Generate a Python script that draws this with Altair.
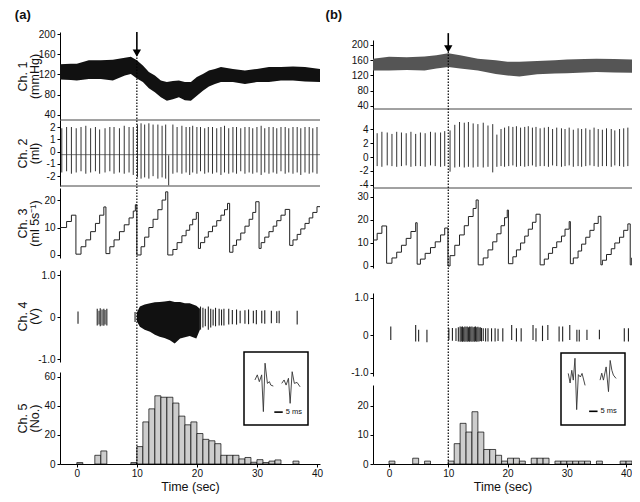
import altair as alt
import pandas as pd

# ----------------------------- data -----------------------------
STIM_T = 10.0  # stimulus time (arrow / dotted line), sec

# Ch.1 arterial pressure, envelope of the trace (mmHg)
ch1a_t  = [-2.8, -1, 0, 2, 4, 6, 8, 9, 10, 11, 12, 13, 14, 15, 16, 17, 18, 19, 20, 21, 22, 23, 24, 26, 28, 30, 32, 34, 36, 38, 40.5]
ch1a_hi = [140, 141, 141, 148, 148, 149, 153, 155, 148, 138, 125, 118, 108, 105, 107, 108, 105, 105, 115, 121, 128, 131, 135, 131, 128, 131, 135, 135, 136, 135, 131]
ch1a_lo = [110, 109, 108, 111, 111, 108, 118, 121, 112, 105, 93, 85, 75, 68, 71, 75, 69, 68, 78, 88, 96, 101, 105, 105, 101, 105, 105, 108, 108, 106, 105]
ch1b_t  = [-2.7, 0, 3, 6, 8, 10, 12, 15, 18, 20, 22, 25, 28, 30, 33, 35, 38, 41]
ch1b_hi = [164, 169, 168, 170, 173, 178, 173, 164, 160, 156, 156, 158, 160, 162, 163, 164, 163, 162]
ch1b_lo = [133, 133, 134, 133, 138, 142, 138, 133, 124, 120, 117, 123, 125, 126, 128, 129, 128, 127]

# Ch.2 volume: beat times, beat maxima and minima (ml)
ch2a_t = [-2.5, -1.7, -0.9, -0.1, 0.7, 1.5, 2.3, 3.1, 3.8, 4.7, 5.5, 6.2, 7.1, 7.9, 8.7, 9.4,
          10.1, 10.7, 11.3, 12.0, 12.7, 13.5, 14.2, 14.8, 15.3,
          16.0, 16.7, 17.5, 18.2, 18.8, 19.3, 20.0, 20.6, 21.3, 21.9, 22.6, 23.3, 24.0, 24.6, 25.3,
          26.0, 26.6, 27.3, 28.0, 28.7, 29.3, 30.0, 30.7, 31.3, 32.0, 32.7, 33.3, 34.0, 34.7, 35.3,
          36.0, 36.7, 37.3, 38.0, 38.7, 39.3, 40.0]
ch2a_hi = [1.9, 2.0, 2.0, 1.9, 2.0, 2.1, 1.9, 2.0, 1.8, 1.9, 2.0, 2.0, 1.9, 2.1, 2.0, 2.0,
           2.2, 2.3, 2.2, 2.3, 2.2, 2.2, 2.1, 2.2, -0.3,
           2.2, 2.0, 2.1, 2.0, 2.0, 2.1, 2.0, 2.0, 1.9, 2.0, 2.0, 1.9, 2.0, 2.1, 1.9,
           2.0, 2.0, 1.9, 2.0, 2.0, 1.9, 2.0, 2.1, 1.9, 2.0, 2.0, 1.9, 2.0, 2.0, 1.9,
           2.0, 2.0, 1.9, 2.0, 2.0, 1.9, 2.0]
ch2a_lo = [-1.7, -1.6, -1.8, -1.7, -1.6, -1.8, -1.7, -1.6, -1.8, -1.7, -1.6, -1.8, -1.7, -1.8, -1.7, -1.9,
           -2.1, -2.2, -2.1, -2.2, -2.0, -2.2, -2.1, -2.2, -2.75,
           -1.8, -1.7, -1.8, -1.7, -1.9, -1.7, -1.8, -1.6, -1.8, -1.7, -1.8, -1.7, -1.9, -1.7, -1.8,
           -1.7, -1.8, -1.6, -1.8, -1.7, -1.8, -1.7, -1.9, -1.7, -1.8, -1.7, -1.8, -1.6, -1.8, -1.7,
           -1.8, -1.7, -1.9, -1.7, -1.8, -1.7, -1.8]
ch2a_base = -0.25
ch2b_t = [-2.0, -1.2, -0.3, 0.5, 1.3, 2.1, 2.9, 3.7, 4.5, 5.3, 6.1, 7.0, 7.8, 8.7, 9.4,
          10.3, 11.1, 11.9, 12.7, 13.4, 14.2, 15.0, 15.9, 16.7, 17.5,
          18.2, 18.9, 19.5, 20.2, 20.9, 21.5, 22.2, 22.9, 23.5, 24.2, 24.8, 25.5, 26.2, 26.9, 27.6,
          28.3, 29.1, 29.7, 30.4, 31.1, 31.9, 32.5, 33.2, 33.9, 34.6, 35.3, 36.0, 36.7, 37.5, 38.1,
          38.9, 39.6, 40.3]
ch2b_hi = [3.4, 3.6, 3.5, 3.3, 3.6, 3.5, 3.4, 3.6, 3.3, 3.5, 3.4, 3.6, 3.5, 3.5, 3.7,
           3.8, 4.6, 5.0, 4.9, 5.0, 4.8, 4.7, 4.9, 4.5, 4.7,
           3.2, 4.0, 4.2, 4.4, 4.3, 4.4, 4.2, 4.3, 4.4, 4.2, 4.3, 4.1, 4.2, 4.3, 4.0,
           4.2, 4.1, 4.0, 4.2, 3.9, 4.1, 4.0, 4.1, 3.9, 4.2, 4.0, 3.9, 4.1, 4.0, 3.8,
           4.0, 4.1, 4.2]
ch2b_lo = [-1.3, -1.4, -1.2, -1.3, -1.4, -1.3, -1.2, -1.4, -1.3, -1.3, -1.4, -1.2, -1.3, -1.4, -1.3,
           -2.1, -1.5, -1.4, -1.5, -1.4, -1.5, -1.4, -1.5, -1.4, -2.2,
           -1.4, -1.3, -1.4, -1.3, -1.2, -1.4, -1.3, -1.4, -1.3, -1.2, -1.4, -1.3, -1.3, -1.4, -1.2,
           -1.3, -1.4, -1.3, -1.2, -1.4, -1.3, -1.4, -1.3, -1.2, -1.3, -1.4, -1.3, -1.3, -1.4, -1.2,
           -1.3, -1.4, -1.3]

# Ch.3 integrated flow (ml 5s-1): staircase levels and the time each level starts
ch3a_t = [-2.8, -1.7, -0.9, -0.15, 0.7, 1.5, 2.3, 3.1, 3.8, 4.5, 4.85, 5.5, 6.2, 7.1, 7.9, 8.7, 9.4, 9.75, 10.0,
          10.7, 11.3, 12.0, 12.7, 13.5, 14.2, 14.8, 15.15, 16.0, 16.7, 17.5, 18.2, 18.8, 19.3, 19.9, 20.25,
          20.6, 21.3, 21.9, 22.6, 23.3, 24.0, 24.6, 25.1, 25.45, 26.0, 26.6, 27.3, 28.0, 28.7, 29.3, 29.8, 30.35,
          30.7, 31.3, 32.0, 32.7, 33.3, 34.0, 34.7, 35.45, 36.0, 36.7, 37.3, 38.0, 38.7, 39.3, 40.0, 40.5]
ch3a_v = [10, 12.2, 14.5, 0.3, 3, 5.5, 8.5, 11.5, 14.5, 17.5, 0.5, 3, 5.5, 8.5, 11, 13.5, 16, 18.3, 0,
          3, 6.5, 10, 13, 16.5, 20, 23, 0, 2, 4.5, 7, 9, 11, 13, 15.5, 2.4,
          4.5, 6.5, 8.5, 10.5, 12.5, 14.5, 16.5, 18.8, 1, 3.5, 5.5, 8, 10.5, 13, 15.5, 19.4, 2.4,
          4.5, 6.5, 8.5, 10.5, 12.5, 14.5, 16.6, 3.5, 5.5, 7.5, 9.5, 11.5, 13.5, 15.5, 17.6, 17.6]
ch3b_t = [-2.7, -2.0, -1.2, -0.4, 0.5, 1.3, 2.1, 2.9, 3.7, 4.5, 4.75, 5.3, 6.1, 7.0, 7.8, 8.7, 9.4, 9.95,
          10.3, 11.1, 11.9, 12.7, 13.4, 14.2, 14.7, 15.05, 15.9, 16.7, 17.5, 18.2, 18.9, 19.5, 19.95, 20.15,
          20.9, 21.5, 22.2, 22.9, 23.5, 24.2, 24.8, 25.5, 26.2, 26.9, 27.6, 28.3, 29.1, 29.7, 30.4, 30.6,
          31.1, 31.9, 32.5, 33.2, 33.9, 34.6, 35.3, 35.75, 36.0, 36.7, 37.5, 38.1, 38.9, 39.6, 40.3, 40.7, 40.95, 41.0]
ch3b_v = [11.3, 14.2, 17.4, 1.2, 3.5, 6, 9, 12, 15, 18.8, 0.8, 3, 5.5, 8, 10.5, 13.5, 16.5, 0,
          4.5, 9, 13.5, 17.5, 21.5, 25, 28.7, 0.5, 3.5, 7, 10.5, 14, 17.5, 21, 24.3, 1,
          4, 7, 10, 13, 16, 19, 22.5, 0.5, 3, 5.5, 8, 10.5, 13, 16, 19.3, 1,
          3.5, 6.5, 9.5, 12.5, 15.5, 18.5, 21.6, 0.5, 2.5, 5, 7.5, 10, 12.5, 15.5, 18.3, 0.5, 3.5, 3.5]

# Ch.4 nerve activity (V): envelope of the dense burst and isolated spikes
burst_a_t  = [10.0, 10.5, 11.3, 12.2, 13.0, 13.8, 14.6, 15.5, 16.3, 17.2, 18.0, 18.8, 19.9, 20.5]
burst_a_hi = [0.1, 0.25, 0.3, 0.33, 0.35, 0.36, 0.37, 0.39, 0.36, 0.36, 0.33, 0.33, 0.27, 0.2]
burst_a_lo = [-0.1, -0.23, -0.3, -0.35, -0.42, -0.47, -0.5, -0.55, -0.63, -0.51, -0.48, -0.45, -0.51, -0.3]
spk_a_t  = [0.2, 3.4, 3.7, 3.9, 4.2, 4.5, 4.7, 5.0, 9.7, 20.6, 21.0, 21.4, 21.9, 22.3, 22.7, 23.1, 23.7, 24.1,
            24.5, 25.3, 25.9, 26.6, 27.2, 28.0, 28.6, 29.4, 29.9, 30.8, 31.3, 32.4, 33.3, 33.7, 36.7]
spk_a_hi = [0.13, 0.2, 0.15, 0.21, 0.18, 0.2, 0.17, 0.2, 0.12, 0.25, 0.22, 0.2, 0.25, 0.2, 0.18, 0.22, 0.2, 0.18,
            0.2, 0.2, 0.17, 0.18, 0.15, 0.16, 0.18, 0.15, 0.17, 0.15, 0.16, 0.15, 0.14, 0.15, 0.15]
spk_a_lo = [-0.16, -0.2, -0.18, -0.22, -0.2, -0.21, -0.18, -0.2, -0.12, -0.3, -0.25, -0.22, -0.3, -0.25, -0.2, -0.22, -0.2, -0.2,
            -0.2, -0.18, -0.17, -0.18, -0.15, -0.16, -0.17, -0.15, -0.17, -0.15, -0.16, -0.15, -0.14, -0.15, -0.18]
spk_b_t  = [0.3, 4.5, 5.0, 6.4, 10.1, 10.7, 11.3, 11.7, 12.0, 12.2, 12.4, 12.6, 12.8, 13.0, 13.2, 13.4, 13.6, 13.8,
            14.0, 14.2, 14.4, 14.6, 14.8, 15.0, 15.2, 15.4, 15.6, 15.9, 16.3, 16.7, 17.3, 17.9, 18.4, 19.2, 20.7,
            21.5, 22.3, 24.3, 24.8, 25.9, 26.8, 28.7, 29.3, 30.5, 31.7, 32.1, 33.4, 35.5, 39.7, 40.4]
spk_b_hi = [0.24, 0.28, 0.15, 0.15, 0.19, 0.2, 0.19, 0.22, 0.24, 0.23, 0.24, 0.22, 0.24, 0.23, 0.24, 0.22, 0.24, 0.23,
            0.24, 0.22, 0.23, 0.24, 0.22, 0.23, 0.21, 0.22, 0.2, 0.19, 0.19, 0.19, 0.19, 0.19, 0.18, 0.19, 0.28,
            0.19, 0.19, 0.28, 0.19, 0.26, 0.28, 0.24, 0.24, 0.28, 0.15, 0.15, 0.15, 0.15, 0.19, 0.19]
spk_b_lo = [-0.12, -0.16, -0.16, -0.18, -0.12, -0.14, -0.15, -0.16, -0.17, -0.16, -0.17, -0.16, -0.17, -0.16, -0.17, -0.16, -0.17, -0.16,
            -0.17, -0.16, -0.17, -0.16, -0.17, -0.16, -0.16, -0.15, -0.16, -0.15, -0.16, -0.16, -0.16, -0.16, -0.15, -0.16, -0.12,
            -0.16, -0.16, -0.12, -0.16, -0.15, -0.12, -0.16, -0.16, -0.12, -0.16, -0.16, -0.12, -0.1, -0.16, -0.16]

# Ch.5 spike counts per 1-s bin (bin start, count)
h5a_t = [0, 3, 4, 9, 10, 11, 12, 13, 14, 15, 16, 17, 18, 19, 20, 21, 22, 23, 24, 25, 26, 27, 28, 29, 30, 31, 32, 33, 36]
h5a_n = [1, 6, 9, 1, 12, 29, 38, 47, 46, 46, 42, 33, 27, 29, 21, 17, 16, 14, 6, 6, 6, 3.5, 4.5, 1.2, 3, 1, 2, 2.8, 2]
h5b_t = [0, 4, 6, 10, 11, 12, 13, 14, 15, 16, 17, 18, 19, 20, 21, 22, 24, 25, 26, 28, 29, 30, 31, 32, 33, 35, 39, 40]
h5b_n = [1, 2, 1, 1, 7, 14, 11, 18, 11, 5, 5, 3, 1, 2, 2, 1, 2, 2, 2, 1, 1, 1, 1, 1, 1, 1, 1, 1]

# Insets: averaged spike waveforms (ms, relative amplitude) and 5 ms scale bar
ins_a1_ms = [6.5, 7.9, 9.1, 10.5, 11.5, 12.5, 13.9, 15.1, 15.9, 17.4]
ins_a1_v  = [0.35, 0.56, 0.28, 0.56, -0.95, 1.04, 0.21, 0.28, 0.14, 0.1]
ins_a2_ms = [22.4, 23.8, 25.0, 26.4, 27.4, 28.6, 29.9, 31.5, 33.3]
ins_a2_v  = [0.21, 0.35, 0.14, 0.42, -0.61, 0.69, 0.21, 0.25, 0.07]
ins_b1_ms = [4.3, 5.4, 6.4, 7.3, 8.3, 9.3, 10.3, 11.5, 12.5, 14.3]
ins_b1_v  = [0.65, 0.25, 0.78, 0.37, 1.28, -0.86, 0.6, 0.5, 0.65, 0.15]
ins_b2_ms = [23.2, 24.2, 25.2, 26.8, 28.2, 29.2, 30.2, 31.1, 32.7]
ins_b2_v  = [0.37, 0.66, 0.37, 0.92, -0.11, 1.19, 0.78, 0.58, 0.44]
SCALE_MS = 5

# ----------------------------- layout (scales) -----------------------------
W, H = 624, 486
PA = dict(xdom=[-2.8, 40.5], xrng=[52, 312],
          y={1: ([30, 204], [112, 24]), 2: ([-2.8, 2.57], [178, 112]), 3: ([-1.1, 24.4], [250, 180]),
             4: ([-1.07, 1.12], [354, 262]), 5: ([0, 63.4], [456, 364])},
          full=[456, 47], ins_x=[236, 300], ins_y=[417, 344])
PB = dict(xdom=[-2.7, 41.0], xrng=[365, 624],
          y={1: ([32, 213], [101, 32]), 2: ([-4.43, 6.86], [180, 101]), 3: ([-0.87, 33.9], [260, 180]),
             4: ([-1.08, 1.13], [368, 285]), 5: ([0, 27.2], [456, 377])},
          full=[456, 44], ins_x=[553, 617], ins_y=[417, 345])
INS_DOM_X = [0, 38]
INS_DOM_Y = [-1.5, 1.5]
FONT = "Liberation Sans"


def X(P, f, axis=None):
    return alt.X(f"{f}:Q", scale=alt.Scale(domain=P["xdom"], range=P["xrng"], nice=False, zero=False), axis=axis)


def Y(P, ch, f, axis=None):
    d, r = P["y"][ch]
    return alt.Y(f"{f}:Q", scale=alt.Scale(domain=d, range=r, nice=False, zero=False), axis=axis)


def yaxis(P, values, title, label_expr=None):
    kw = dict(orient="left", offset=-P["xrng"][0], values=values, labelOverlap=False,
              labelFlush=False, grid=False, tickSize=3)
    if title:
        kw.update(title=title, titleX=-38, titleBaseline="middle", titleFontWeight="normal",
                  titleFontSize=12.5, titleLineHeight=12)
    else:
        kw.update(title="")
    if label_expr:
        kw.update(labelExpr=label_expr)
    return alt.Axis(**kw)


MINUS = "replace(format(datum.value, 'd'), '\u2212', '-')"
ONE = "datum.value == 0 ? '0' : replace(format(datum.value, '.1f'), '\u2212', '-')"


def panel(P, d, titles, label, ch1_color, arrow, label_pos):
    L = []
    # Ch.5 histogram with the time axis
    xax = alt.Axis(orient="bottom", offset=-(H - P["y"][5][1][0]), values=[0, 10, 20, 30, 40],
                   title="Time (sec)", titleFontWeight="normal", titleFontSize=12.5, titlePadding=2,
                   labelFlush=False, grid=False, tickSize=3, labelPadding=1)
    L.append(alt.Chart(pd.DataFrame({"t": d["h_t"], "n": d["h_n"]}))
             .transform_calculate(t2="datum.t + 1", z="0")
             .mark_rect(fill="#cdcdcd", stroke="black", strokeWidth=0.7)
             .encode(x=X(P, "t", xax), x2="t2:Q",
                     y=Y(P, 5, "n", yaxis(P, d["y5vals"], ["Ch. 5", "(No.)"] if titles else None, MINUS)),
                     y2="z:Q"))
    # Ch.4
    L.append(alt.Chart(pd.DataFrame({"t": d["spk_t"], "hi": d["spk_hi"], "lo": d["spk_lo"]}))
             .mark_rule(color="#222", strokeWidth=1.1)
             .encode(x=X(P, "t"),
                     y=Y(P, 4, "hi", yaxis(P, [-1, 0, 1], ["Ch. 4", "(V)"] if titles else None, ONE)),
                     y2="lo:Q"))
    if d.get("burst_t"):
        L.append(alt.Chart(pd.DataFrame({"t": d["burst_t"], "hi": d["burst_hi"], "lo": d["burst_lo"]}))
                 .mark_area(color="#111")
                 .encode(x=X(P, "t"), y=Y(P, 4, "hi"), y2="lo:Q"))
    # Ch.3
    L.append(alt.Chart(pd.DataFrame({"t": d["ch3_t"], "v": d["ch3_v"]}))
             .mark_line(color="#222", strokeWidth=1, interpolate="step-after")
             .encode(x=X(P, "t"),
                     y=Y(P, 3, "v", yaxis(P, d["y3vals"], ["Ch. 3", "(ml 5s\u207b\u00b9)"] if titles else None, MINUS))))
    # Ch.2
    if d.get("ch2_base") is not None:
        L.append(alt.Chart(pd.DataFrame({"a": [P["xdom"][0] + 0.2], "b": [P["xdom"][1]], "v": [d["ch2_base"]]}))
                 .mark_rule(color="#555", strokeWidth=0.8)
                 .encode(x=X(P, "a"), x2="b:Q", y=Y(P, 2, "v")))
    L.append(alt.Chart(pd.DataFrame({"t": d["ch2_t"], "hi": d["ch2_hi"], "lo": d["ch2_lo"]}))
             .mark_rule(color="#333", strokeWidth=1)
             .encode(x=X(P, "t"),
                     y=Y(P, 2, "hi", yaxis(P, d["y2vals"], ["Ch. 2", "(ml)"] if titles else None, MINUS)),
                     y2="lo:Q"))
    dom2 = P["y"][2][0]
    L.append(alt.Chart(pd.DataFrame({"a": [P["xdom"][0]] * 2, "b": [P["xdom"][1]] * 2, "v": dom2}))
             .mark_rule(color="#444", strokeWidth=1)
             .encode(x=X(P, "a"), x2="b:Q", y=Y(P, 2, "v")))
    # Ch.1
    L.append(alt.Chart(pd.DataFrame({"t": d["ch1_t"], "hi": d["ch1_hi"], "lo": d["ch1_lo"]}))
             .mark_area(color=ch1_color)
             .encode(x=X(P, "t"),
                     y=Y(P, 1, "hi", yaxis(P, [40, 80, 120, 160, 200], ["Ch. 1", "(mmHg)"] if titles else None)),
                     y2="lo:Q"))
    # stimulus: dotted line and arrow
    L.append(alt.Chart(pd.DataFrame({"t": [STIM_T], "a": [0], "b": [1]}))
             .mark_rule(color="black", strokeWidth=1.2, strokeDash=[1.5, 1.5])
             .encode(x=X(P, "t"),
                     y=alt.Y("a:Q", scale=alt.Scale(domain=[0, 1], range=P["full"], nice=False, zero=False), axis=None),
                     y2="b:Q"))
    L.append(alt.Chart(pd.DataFrame({"t": [STIM_T], "a": [arrow[0]], "b": [arrow[1]]}))
             .mark_rule(color="black", strokeWidth=1.6)
             .encode(x=X(P, "t"), y=Y(P, 1, "a"), y2="b:Q"))
    L.append(alt.Chart(pd.DataFrame({"t": [STIM_T], "v": [arrow[2]]}))
             .mark_point(shape="triangle-down", filled=True, size=70, color="black", opacity=1)
             .encode(x=X(P, "t"), y=Y(P, 1, "v")))
    # inset
    ix = alt.Scale(domain=INS_DOM_X, range=P["ins_x"], nice=False, zero=False)
    iy = alt.Scale(domain=INS_DOM_Y, range=P["ins_y"], nice=False, zero=False)
    L.append(alt.Chart(pd.DataFrame({"a": [INS_DOM_X[0]], "b": [INS_DOM_X[1]], "c": [INS_DOM_Y[0]], "e": [INS_DOM_Y[1]]}))
             .mark_rect(fill="white", stroke="black", strokeWidth=1.5)
             .encode(x=alt.X("a:Q", scale=ix, axis=None), x2="b:Q",
                     y=alt.Y("c:Q", scale=iy, axis=None), y2="e:Q"))
    wave = pd.concat([pd.DataFrame({"ms": d["w1_ms"], "v": d["w1_v"], "w": 1}),
                      pd.DataFrame({"ms": d["w2_ms"], "v": d["w2_v"], "w": 2})])
    L.append(alt.Chart(wave).mark_line(color="#333", strokeWidth=0.9)
             .encode(x=alt.X("ms:Q", scale=ix, axis=None), y=alt.Y("v:Q", scale=iy, axis=None), detail="w:N"))
    L.append(alt.Chart(pd.DataFrame({"a": [d["bar_ms"]], "b": [d["bar_ms"] + SCALE_MS], "v": [d["bar_v"]]}))
             .mark_rule(color="black", strokeWidth=1.6)
             .encode(x=alt.X("a:Q", scale=ix, axis=None), x2="b:Q", y=alt.Y("v:Q", scale=iy, axis=None)))
    L.append(alt.Chart(pd.DataFrame({"a": [d["bar_ms"] + SCALE_MS + 1.8], "v": [d["bar_v"]], "s": [f"{SCALE_MS} ms"]}))
             .mark_text(align="left", baseline="middle", fontSize=7.5, font=FONT, color="#111")
             .encode(x=alt.X("a:Q", scale=ix, axis=None), y=alt.Y("v:Q", scale=iy, axis=None), text="s:N"))
    # panel label
    L.append(alt.Chart(pd.DataFrame({"t": [label_pos[0]], "v": [label_pos[1]], "s": [label]}))
             .mark_text(fontSize=13, fontWeight="bold", font=FONT, baseline="middle", color="#111")
             .encode(x=X(P, "t"), y=Y(P, 1, "v"), text="s:N"))
    return L


da = dict(h_t=h5a_t, h_n=h5a_n, y5vals=[0, 20, 40, 60], spk_t=spk_a_t, spk_hi=spk_a_hi, spk_lo=spk_a_lo,
          burst_t=burst_a_t, burst_hi=burst_a_hi, burst_lo=burst_a_lo, ch3_t=ch3a_t, ch3_v=ch3a_v,
          y3vals=[0, 10, 20], ch2_t=ch2a_t, ch2_hi=ch2a_hi, ch2_lo=ch2a_lo, ch2_base=ch2a_base,
          y2vals=[-2, -1, 0, 1, 2], ch1_t=ch1a_t, ch1_hi=ch1a_hi, ch1_lo=ch1a_lo,
          w1_ms=ins_a1_ms, w1_v=ins_a1_v, w2_ms=ins_a2_ms, w2_v=ins_a2_v, bar_ms=18, bar_v=-0.97)
db = dict(h_t=h5b_t, h_n=h5b_n, y5vals=[0, 10, 20], spk_t=spk_b_t, spk_hi=spk_b_hi, spk_lo=spk_b_lo,
          ch3_t=ch3b_t, ch3_v=ch3b_v, y3vals=[0, 10, 20, 30], ch2_t=ch2b_t, ch2_hi=ch2b_hi, ch2_lo=ch2b_lo,
          y2vals=[-4, -2, 0, 2, 4], ch1_t=ch1b_t, ch1_hi=ch1b_hi, ch1_lo=ch1b_lo,
          w1_ms=ins_b1_ms, w1_v=ins_b1_v, w2_ms=ins_b2_ms, w2_v=ins_b2_v, bar_ms=16.7, bar_v=-0.93)

layers = (panel(PA, da, True, "(a)", "#111", (204, 166, 162), (-9.0, 237))
          + panel(PB, db, False, "(b)", "#555", (231, 196, 190), (-9.3, 278)))

chart = (alt.layer(*layers)
         .resolve_scale(x="independent", y="independent")
         .resolve_axis(x="independent", y="independent")
         .properties(width=W, height=H, padding=0, autosize=alt.AutoSizeParams(type="none"),
                     background="white")
         .configure_view(stroke=None)
         .configure_axis(labelFont=FONT, titleFont=FONT, labelFontSize=10, labelColor="#111",
                         titleColor="#111", domainColor="black", tickColor="black", domainWidth=1))

chart.save("out.html", embed_options={"renderer": "svg", "actions": False})
